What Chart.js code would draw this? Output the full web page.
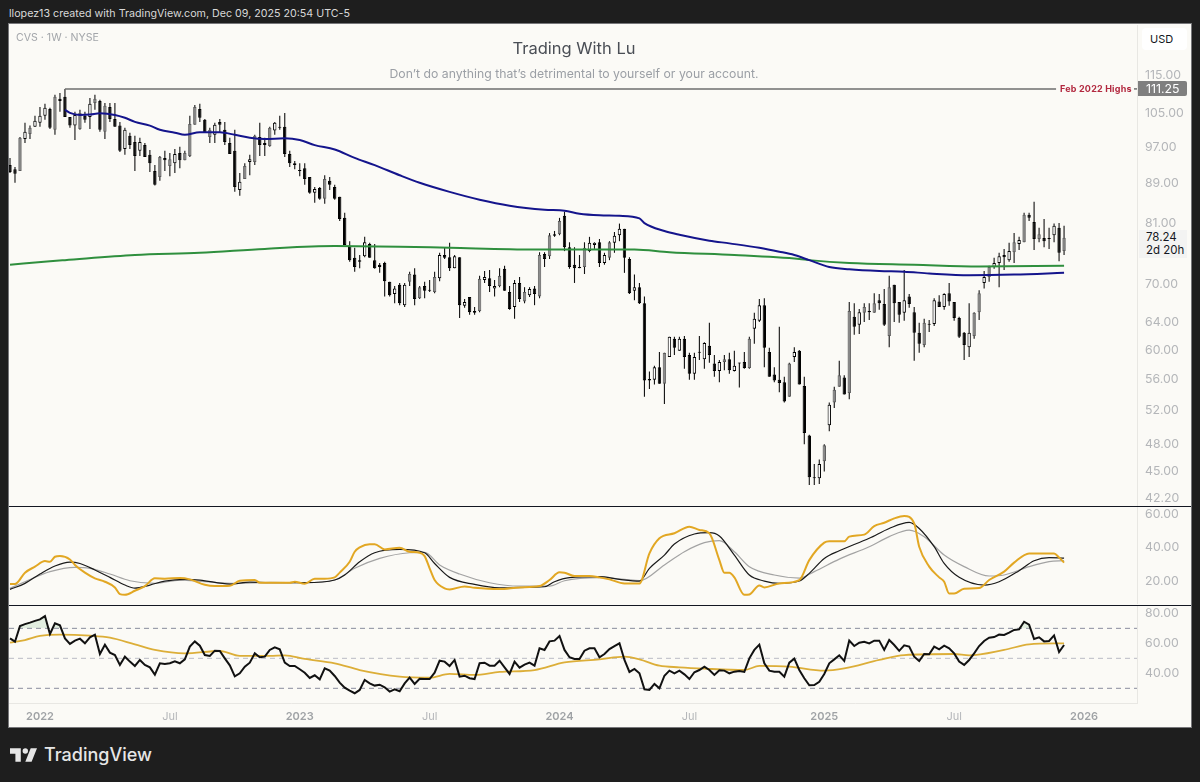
<!DOCTYPE html>
<html>
<head>
<meta charset="utf-8">
<script src="https://cdn.jsdelivr.net/npm/chart.js@4"></script>
<style>
body { margin: 0; width: 1200px; height: 782px; background: #1e1e1e; overflow: hidden; font-family: Inter, sans-serif; }
.abs { position: absolute; white-space: nowrap; }
canvas { position: absolute; left: 9px; }
#panel { left: 9px; top: 24px; width: 1182px; height: 703px; background: #fbfaf6; box-shadow: 0 0 0 1px #77777a; }
.sep { left: 9px; width: 1182px; height: 1px; background: #131722; }
</style>
</head>
<body>
<div class="abs" style="left:9px;top:6px;font-size:10.7px;line-height:16px;color:#d8d8d8">llopez13 created with TradingView.com, Dec 09, 2025 20:54 UTC-5</div>
<div class="abs" id="panel"></div>
<canvas id="priceChart" width="1182" height="481" style="top:25px"></canvas>
<canvas id="stochChart" width="1182" height="97" style="top:507px"></canvas>
<canvas id="rsiChart" width="1182" height="121" style="top:606px"></canvas>
<div class="abs sep" style="top:506px"></div>
<div class="abs sep" style="top:605px"></div>
<div class="abs" style="left:16px;top:30px;font-size:10.6px;line-height:16px;color:#a3a6aa">CVS · 1W · NYSE</div>
<div class="abs" style="left:0;width:1148px;top:38px;text-align:center;font-size:16.5px;line-height:20px;color:#4a4e55">Trading With Lu</div>
<div class="abs" style="left:0;width:1148px;top:66px;text-align:center;font-size:12.25px;line-height:16px;color:#9b9fa5">Don’t do anything that’s detrimental to yourself or your account.</div>
<div class="abs" style="left:1142px;top:28px;width:45px;height:22px;background:#fff;border-radius:4px;padding-left:8px;box-sizing:border-box;font-size:11px;line-height:22px;color:#131722">USD</div>
<div class="abs" style="left:1060px;top:82px;font-size:9px;line-height:13px;font-weight:700;letter-spacing:.2px;color:#b2283f">Feb 2022 Highs</div>
<div class="abs" style="left:1138px;top:81px;width:49px;height:15px;background:#7f7f7f;border-radius:0 2px 2px 0;padding-left:8px;box-sizing:border-box;font-size:12.3px;line-height:15px;color:#fff">111.25</div>
<div class="abs" style="left:1139px;top:230px;width:48px;height:28px;background:#f3f3f2;padding-left:7px;box-sizing:border-box;font-size:11.5px;line-height:13px;padding-top:1px;color:#131722">78.24<br>2d 20h</div>
<svg class="abs" style="left:10px;top:748px" width="27" height="14" viewBox="2 6 30 15"><path fill="#e6e6e6" d="M14 6H2v6h6v9h6V6Zm12 15h-7l6-15h7l-6 15Zm-7-9a3 3 0 1 0 0-6 3 3 0 0 0 0 6Z"/></svg>
<div class="abs" style="left:44px;top:743px;font-size:18px;line-height:24px;font-weight:500;color:#e6e6e6">TradingView</div>
<script>
const opens = [92.9,92.0,91.6,98.8,100.0,101.7,102.7,104.4,106.1,101.0,
108.7,109.2,104.1,102.0,101.2,104.4,104.1,107.6,108.1,100.5,
106.6,103.6,102.0,96.5,99.6,98.1,96.1,97.4,95.2,91.6,
90.3,94.5,92.7,93.3,95.6,94.0,94.9,102.2,106.1,103.4,
99.3,99.8,102.9,101.0,97.9,96.1,87.6,89.9,93.6,93.6,
99.3,97.9,97.2,100.8,101.7,101.7,95.4,93.3,91.8,92.2,
90.3,87.0,88.0,85.8,89.5,88.2,86.2,82.0,76.7,74.6,
74.2,74.9,77.1,74.2,73.4,73.7,70.5,68.5,70.0,66.7,
70.5,71.7,67.8,69.8,69.1,68.8,71.1,75.1,74.7,72.8,
74.7,66.6,68.0,65.5,65.8,70.8,71.1,69.4,69.8,72.7,
68.8,66.4,70.3,67.3,68.3,69.4,68.1,75.3,74.9,78.9,
78.9,82.4,76.5,73.4,73.0,73.0,75.8,76.9,77.4,73.7,
74.6,77.3,78.7,79.9,74.4,69.0,69.6,67.0,56.0,55.9,
57.6,55.4,59.0,61.6,59.9,61.6,59.3,56.7,59.6,58.7,
60.6,58.1,57.1,58.3,58.7,57.1,58.2,58.3,57.5,63.1,
64.3,66.7,59.7,56.6,55.9,55.6,53.7,59.0,59.9,55.1,
49.0,44.4,44.3,46.1,50.2,53.0,55.0,56.2,54.2,64.9,
63.7,65.5,65.8,65.5,67.5,66.9,62.0,70.0,67.2,65.5,
68.1,65.6,62.5,60.7,63.8,63.8,67.3,66.4,68.6,67.2,
64.7,62.5,60.4,62.0,65.6,70.3,71.3,73.0,73.7,75.1,
74.2,75.6,77.1,77.4,82.6,81.2,78.0,78.2,78.2,78.7,
80.1,75.8];
const closes = [91.4,91.0,99.1,100.5,101.5,103.2,104.4,106.4,101.5,109.2,
108.1,104.1,102.0,104.6,105.1,103.4,107.4,108.7,101.0,106.9,
103.6,101.7,96.1,101.0,97.4,94.9,98.1,94.7,93.3,88.7,
94.7,94.0,94.2,95.4,94.0,95.6,102.4,106.6,103.9,100.3,
101.0,102.2,102.2,98.1,95.4,88.2,89.3,92.7,94.2,99.6,
97.4,97.4,101.5,102.7,101.5,95.4,93.3,92.9,91.6,89.9,
87.0,87.8,85.8,89.9,88.7,85.8,81.8,76.9,74.2,73.0,
73.9,77.4,74.6,72.8,73.0,70.6,68.3,69.4,67.0,70.0,
71.8,67.7,69.6,69.0,69.0,71.3,75.1,74.6,72.8,74.9,
66.7,67.2,65.6,65.8,71.0,71.3,69.8,69.8,71.5,69.0,
66.1,70.3,67.7,68.8,69.3,68.5,75.1,74.4,78.7,78.6,
81.4,76.5,73.0,72.8,72.8,76.4,77.3,77.3,73.7,75.1,
77.4,78.6,79.9,74.6,68.6,69.6,67.0,55.8,55.8,57.6,
55.4,59.6,61.9,60.3,61.6,59.0,56.7,59.0,59.7,61.0,
59.3,57.1,58.3,58.7,57.2,57.8,58.1,57.5,61.6,64.6,
66.7,60.3,56.3,55.8,55.5,53.1,58.1,59.7,55.3,49.3,
44.4,44.3,45.8,47.9,52.7,54.6,56.5,54.0,65.8,63.4,
65.6,66.4,65.6,67.0,67.0,63.7,69.6,67.0,65.2,67.5,
66.9,62.5,60.9,64.0,63.7,67.5,66.4,68.5,67.3,64.7,
61.9,60.7,62.5,65.5,68.6,71.3,73.0,73.7,74.9,74.7,
75.8,77.4,77.8,82.6,82.0,78.0,78.9,77.6,78.0,80.5,
75.5,78.24];
const highs = [94.5,92.5,99.3,102.7,102.0,104.4,106.6,107.4,106.4,109.7,
110.2,111.25,104.1,105.4,105.9,105.4,108.9,109.7,108.4,107.6,
107.6,107.6,102.9,101.5,100.3,99.6,99.1,97.9,96.3,92.9,
94.9,96.1,95.6,96.5,97.0,96.1,104.4,107.1,107.4,103.6,
101.5,102.7,103.6,102.9,99.1,101.0,91.2,93.3,95.2,99.8,
102.7,99.1,101.7,102.9,104.4,105.1,96.1,93.8,93.3,93.3,
90.3,88.2,88.2,90.7,90.3,88.7,86.2,83.0,77.6,76.4,
75.1,78.4,77.3,77.1,73.7,73.9,70.5,69.8,70.3,70.3,
72.2,72.8,69.8,70.5,70.8,72.2,75.5,76.4,77.3,75.1,
74.7,67.7,68.0,66.4,71.5,72.3,72.5,70.8,72.8,73.2,
69.8,70.8,71.3,69.6,69.6,69.8,75.6,75.6,79.1,79.5,
82.0,83.2,77.4,76.5,75.1,77.4,78.4,77.4,78.0,75.5,
77.6,79.3,80.9,79.9,74.7,71.7,70.3,68.1,57.0,57.8,
59.7,59.6,61.9,61.9,61.9,62.0,59.6,59.6,62.0,61.1,
64.0,59.3,58.6,59.3,59.6,59.9,58.2,59.7,61.9,65.5,
67.7,67.8,60.3,57.6,63.4,56.3,58.2,60.4,60.0,56.3,
49.1,45.8,46.3,48.0,53.0,55.0,58.5,56.5,67.2,67.0,
66.1,67.0,67.0,68.6,68.5,69.3,71.5,70.0,67.2,72.5,
68.5,66.4,64.0,64.6,64.4,67.8,68.3,68.6,70.3,67.2,
64.9,62.6,67.0,65.6,69.1,72.3,73.2,74.6,75.5,76.2,
77.3,79.1,78.4,83.0,83.0,85.2,80.1,81.8,80.1,80.9,
81.0,80.5];
const lows = [91.2,89.1,91.6,97.9,98.8,101.7,101.7,103.4,101.2,99.8,
105.4,104.1,101.5,98.6,101.0,102.7,101.2,105.9,100.5,98.8,
102.9,101.7,95.8,95.2,96.5,91.6,94.9,94.7,91.4,88.5,
89.5,91.6,90.5,91.2,92.2,94.0,94.7,102.2,102.9,100.3,
97.9,97.9,100.3,97.4,95.4,87.2,86.4,89.9,90.7,92.9,
94.9,94.9,97.0,99.8,101.0,94.7,92.5,92.0,90.5,88.7,
86.8,85.0,85.6,84.8,87.6,85.6,81.4,76.9,73.9,72.2,
72.8,74.7,74.6,72.7,72.0,68.1,68.1,67.0,66.7,66.4,
69.8,66.7,67.7,67.8,68.8,68.6,70.6,74.4,72.3,72.8,
64.7,66.3,65.2,65.2,65.6,70.3,68.8,68.1,69.6,69.0,
66.0,64.6,67.2,67.0,68.0,66.7,67.8,73.0,74.4,78.4,
78.7,75.8,72.7,70.3,72.8,71.8,75.6,76.2,73.0,73.4,
74.2,75.5,77.6,72.0,68.5,67.5,66.9,53.7,54.7,55.3,
55.4,52.8,59.0,59.3,59.9,57.4,55.9,55.9,58.6,57.4,
58.2,56.3,55.6,57.2,56.7,57.0,54.9,57.4,57.4,60.9,
64.1,57.6,56.3,55.6,54.3,53.0,53.7,58.3,55.3,48.0,
43.6,43.6,43.7,45.0,49.5,52.3,55.0,54.0,53.4,62.2,
62.3,64.1,64.4,65.5,66.0,63.5,60.4,64.1,64.0,64.3,
66.3,58.5,59.6,60.4,62.6,63.5,66.4,66.0,66.6,64.3,
61.7,58.6,59.0,61.6,64.4,69.4,70.5,72.7,69.6,72.5,
73.9,73.7,76.0,77.4,81.4,76.0,77.4,76.5,76.2,77.4,
74.0,75.1];

const blueWeeks = [11,12,14,16,18,21,23,25,28,30,33,35,38,42,45,48,51,55,58,61,65,69,73,78,82,88,94,100,107,111,114,118,122,126,127,131,134,140,144,150,154,157,160,164,168,174,179,184,192,201,211];
const blueMa = [105.9,105.1,104.6,104.7,105.0,104.6,103.9,102.9,102.0,101.0,100.3,99.8,100.4,100.4,99.8,99.1,98.8,99.0,98.6,97.4,96.4,94.5,92.9,90.7,89.1,87.2,85.6,84.4,83.6,83.4,82.8,82.5,82.4,81.9,81.0,79.5,78.8,77.7,77.2,76.4,75.7,75.1,74.2,73.0,72.6,72.3,72.2,71.9,71.6,71.7,72.0];
const greenWeeks = [0,8,11,25,38,51,65,78,88,105,125,132,145,158,160,168,181,194,211];
const greenMa = [73.4,74.0,74.2,75.1,75.5,76.2,76.7,76.6,76.4,76.1,76.1,75.6,75.1,74.4,74.2,73.7,73.4,73.1,73.2];

const highLineWeeks = [11,209.4];
const highStubWeeks = [225,225.6];
const highLevel = 111.25;

const stochGoldWeeks = [0,1,3,5,7,8,9,10,12,13,15,17,19,21,22,23,25,27,29,31,34,36,39,41,44,46,49,50,56,57,59,61,63,65,66,68,69,70,72,73,75,78,80,82,83,84,85,87,88,91,93,98,102,106,108,110,111,113,116,118,120,123,126,128,130,133,136,138,140,142,143,144,145,147,148,150,151,154,158,160,163,164,167,168,171,173,175,177,179,181,182,184,186,187,188,189,191,194,196,199,201,204,206,209,210,211];
const stochGold = [18.2,18.2,25.0,28.6,31.9,31.5,34.5,34.9,32.9,29.6,25.0,21.6,19.6,16.2,12.2,11.8,14.2,17.0,21.6,21.4,21.8,21.0,17.8,17.0,17.2,20.2,20.6,19.0,19.0,19.6,18.4,21.4,21.4,22.2,25.0,31.5,37.5,40.1,42.0,42.0,38.9,39.9,37.5,36.9,34.9,27.6,20.6,15.6,15.0,16.8,16.0,15.2,16.2,17.0,20.6,25.2,25.0,23.0,23.0,22.2,21.0,18.6,18.6,36.5,45.5,48.5,52.4,50.5,48.5,32.5,25.0,25.0,22.2,11.8,12.0,17.4,16.2,18.6,20.6,32.5,42.9,43.7,43.7,46.5,47.7,52.8,54.8,57.4,58.8,54.4,40.5,28.6,22.2,19.6,12.6,12.6,15.4,15.8,20.6,25.6,31.0,36.5,36.5,36.5,34.0,31.0];
const stochFastWeeks = [0,3,6,9,12,14,17,20,23,25,28,31,35,38,44,48,52,59,65,67,70,73,78,83,85,88,93,98,107,109,112,118,122,126,128,131,133,137,140,142,145,148,151,154,158,160,163,166,172,176,180,182,185,187,190,195,198,202,205,208,211];
const stochFast = [15.0,18.6,24.2,29.0,31.3,30.5,26.6,22.2,17.6,15.8,17.6,20.0,21.0,20.6,18.2,19.4,19.0,19.0,20.6,23.6,31.5,36.9,38.9,36.9,30.5,22.2,18.0,16.0,16.6,19.6,22.0,22.6,21.0,20.0,27.6,35.5,42.1,48.1,48.9,46.9,35.5,23.6,20.0,18.6,20.0,24.6,33.5,38.1,45.5,51.4,55.0,51.4,40.5,30.5,22.2,17.6,19.6,26.2,32.1,34.0,33.7];
const stochSlowWeeks = [0,3,8,13,16,20,24,29,34,39,45,52,59,65,69,74,80,83,86,90,96,102,108,111,118,123,126,131,135,139,142,145,148,153,158,161,166,172,176,180,183,187,191,196,199,204,208,211];
const stochSlow = [15.6,19.6,25.6,28.2,27.6,24.2,20.2,18.6,20.6,19.6,18.6,19.2,19.0,20.6,27.6,33.5,36.9,37.1,29.6,24.2,19.0,17.0,17.0,20.2,22.0,21.0,20.2,29.6,37.5,42.9,44.1,37.5,28.6,23.6,21.8,25.6,33.1,40.5,46.5,50.4,46.5,35.5,28.6,23.0,23.6,28.6,31.6,32.2];
const stochTicks = [20,40,60];

const rsiValues = [63.3,61.1,71.6,72.8,73.8,75.0,76.0,78.2,66.2,73.3,72.0,63.3,
59.6,61.8,63.1,60.0,64.0,65.8,52.9,59.1,53.8,52.2,
45.6,51.1,47.8,44.9,48.9,45.6,44.0,39.1,46.7,46.2,
46.7,48.0,46.7,49.3,57.8,61.3,58.4,52.2,51.6,55.1,
54.9,50.0,45.3,38.0,40.0,44.4,47.1,53.3,50.7,51.1,
55.6,57.3,56.0,47.1,44.9,44.9,42.7,40.4,36.9,38.7,
36.0,43.3,41.8,38.2,33.8,30.4,28.4,26.7,28.9,35.6,
33.3,31.8,32.4,30.7,27.8,29.3,28.0,33.3,37.1,32.9,
36.4,36.2,36.2,40.4,48.4,47.8,44.9,48.9,37.8,38.4,
36.7,36.2,46.7,47.1,45.1,45.1,48.4,44.0,39.6,47.8,
43.8,45.8,47.1,45.1,56.7,55.6,61.3,61.8,64.9,55.6,
50.7,49.6,49.6,55.1,56.7,56.7,50.7,52.9,56.2,58.2,
60.0,48.9,40.9,42.9,40.0,29.3,28.9,32.9,30.0,38.4,
41.8,40.0,41.8,39.3,36.2,40.7,42.2,44.4,42.2,38.9,
42.0,41.8,40.0,41.1,41.6,40.9,50.0,55.6,59.1,46.7,
41.8,41.1,41.1,37.8,47.1,49.8,42.2,36.7,32.0,32.2,
34.4,39.6,46.7,49.3,52.0,48.2,61.8,58.2,60.4,61.1,
60.0,61.8,61.8,55.6,62.2,58.9,55.0,58.7,57.8,51.1,
48.2,52.9,52.7,57.8,56.0,58.4,56.7,53.3,47.8,45.6,
48.9,53.3,58.2,61.6,63.8,64.2,65.8,65.6,67.1,68.9,
69.3,74.4,72.4,62.9,64.0,61.3,61.6,65.3,54.2,58.9];
const rsiMaWeeks = [0,3,6,10,16,20,25,29,35,42,46,52,55,59,65,70,78,84,88,93,98,105,111,118,123,126,130,134,139,147,150,156,163,167,174,179,189,192,199,204,211];
const rsiMa = [60.4,62.2,64.9,65.8,65.1,63.8,59.3,55.6,53.3,54.9,51.6,51.6,52.0,49.6,46.7,42.2,37.8,37.1,39.6,38.9,40.9,42.2,47.3,49.3,51.1,49.3,45.1,44.0,43.1,42.2,44.9,44.4,41.8,43.3,48.9,52.2,52.9,52.0,55.6,59.3,60.0];
const rsiLevels = [70,50,30];
const rsiTicks = [40,60,80];

const priceTicks = [115,105,97,89,81,70,64,60,56,52,48,45,42.2];
const timeWeeks = [6,32,58,84,110,136,163,189,215];
const timeLabels = ['2022','Jul','2023','Jul','2024','Jul','2025','Jul','2026'];

const xMin = -0.2, xMax = 225.6;

// up weeks whose hollow body reads as solid grey in the reference
const greyBodyWeeks = [2,4,9,14,17,19,30,32,35,36,37,40,47,49,52,63,80,82,85,94,98,103,106,108,110,115,120,131,143,148,156,163,165,166,168,171,173,176,183,193,194,196,201,203,206,211];

function pairs(xs, ys) {
    return xs.map(function (x, i) { return { x: x, y: ys[i] }; });
}

function curve(xs, ys, color, width, order) {
    return {
        type: 'line',
        data: pairs(xs, ys),
        borderColor: color,
        borderWidth: width,
        pointRadius: 0,
        cubicInterpolationMode: 'monotone',
        order: order
    };
}

function rightAxis(min, max, tickValues, type) {
    return {
        type: type || 'linear',
        position: 'right',
        min: min,
        max: max,
        grid: { display: false, drawTicks: false },
        border: { color: '#e8e7e3', width: 1 },
        afterFit: function (axis) {
            axis.width = 54;
            axis.paddingTop = 0;
            axis.paddingBottom = 0;
        },
        afterBuildTicks: function (axis) {
            axis.ticks = tickValues.map(function (v) { return { value: v }; });
        },
        ticks: {
            autoSkip: false,
            padding: 8,
            color: '#b4b6b9',
            font: { family: 'Inter', size: 12.3 },
            callback: function (v) { return Number(v).toFixed(2); }
        }
    };
}

function hiddenX() {
    return { type: 'linear', min: xMin, max: xMax, offset: false, display: false };
}

function baseOptions(scales) {
    return {
        responsive: false,
        animation: false,
        events: [],
        layout: { padding: 0 },
        plugins: { legend: { display: false }, tooltip: { enabled: false } },
        scales: scales
    };
}

var wickBars = highs.map(function (h, i) { return { x: i, y: [lows[i], h] }; });
var bodyBars = opens.map(function (o, i) { return { x: i, y: [o, closes[i]] }; });
var bodyFill = opens.map(function (o, i) {
    if (closes[i] < o) return '#000000';
    return greyBodyWeeks.indexOf(i) >= 0 ? '#8c8c8c' : '#ffffff';
});
var bodyEdge = opens.map(function (o, i) {
    return greyBodyWeeks.indexOf(i) >= 0 ? '#5c5c5c' : '#000000';
});

new Chart(document.getElementById('priceChart'), {
    type: 'bar',
    data: {
        datasets: [
            curve(blueWeeks, blueMa, '#14148c', 2, 1),
            curve(greenWeeks, greenMa, '#2f8f3e', 2, 2),
            { type: 'line', data: highLineWeeks.map(function (x) { return { x: x, y: highLevel }; }), borderColor: '#6e6e6e', borderWidth: 1.5, pointRadius: 0, order: 3 },
            { type: 'line', data: highStubWeeks.map(function (x) { return { x: x, y: highLevel }; }), borderColor: '#6e6e6e', borderWidth: 1.5, pointRadius: 0, order: 3 },
            { data: bodyBars, grouped: false, categoryPercentage: 1, barPercentage: 0.68, backgroundColor: bodyFill, borderColor: bodyEdge, borderWidth: 1, borderSkipped: false, minBarLength: 1, order: 4 },
            { data: wickBars, grouped: false, categoryPercentage: 1, barPercentage: 0.22, backgroundColor: '#111111', order: 5 }
        ]
    },
    options: baseOptions({
        x: hiddenX(),
        y: rightAxis(41.48, 129.4, priceTicks, 'logarithmic')
    })
});

new Chart(document.getElementById('stochChart'), {
    type: 'line',
    data: {
        datasets: [
            curve(stochGoldWeeks, stochGold, '#e2a723', 2, 1),
            curve(stochFastWeeks, stochFast, '#1a1a1a', 1.2, 2),
            curve(stochSlowWeeks, stochSlow, '#a3a3a3', 1.2, 3)
        ]
    },
    options: baseOptions({
        x: hiddenX(),
        y: rightAxis(6.3, 64.2, stochTicks)
    })
});

var levelSets = rsiLevels.map(function (lv) {
    return {
        type: 'line',
        data: [{ x: xMin, y: lv }, { x: xMax, y: lv }],
        borderColor: lv === 50 ? '#b9bbc4' : '#8a8c9e',
        borderWidth: 1,
        borderDash: [5, 4],
        pointRadius: 0,
        order: 5
    };
});

new Chart(document.getElementById('rsiChart'), {
    type: 'line',
    data: {
        datasets: [
            {
                data: rsiValues.map(function (v, i) { return { x: i, y: v }; }),
                borderColor: '#111111',
                borderWidth: 2,
                pointRadius: 0,
                fill: { target: { value: 70 }, above: 'rgba(46,160,67,0.12)', below: 'rgba(0,0,0,0)' },
                order: 1
            },
            curve(rsiMaWeeks, rsiMa, '#dcae38', 1.8, 2)
        ].concat(levelSets)
    },
    options: baseOptions({
        x: {
            type: 'linear',
            min: xMin,
            max: xMax,
            offset: false,
            grid: { display: false, drawTicks: false },
            border: { color: '#e8e7e3', width: 1 },
            afterFit: function (axis) {
                axis.height = 24;
                axis.paddingLeft = 0;
                axis.paddingRight = 0;
            },
            afterBuildTicks: function (axis) {
                axis.ticks = timeWeeks.map(function (w) { return { value: w }; });
            },
            ticks: {
                autoSkip: false,
                maxRotation: 0,
                padding: 7,
                color: function (ctx) { return ctx.index % 2 === 0 ? '#9fa2a5' : '#b4b6b9'; },
                font: function (ctx) {
                    return { family: 'Inter', size: 11, weight: ctx.index % 2 === 0 ? '600' : '400' };
                },
                callback: function (v, i) { return timeLabels[i]; }
            }
        },
        y: rightAxis(20.2, 84.9, rsiTicks)
    })
});
</script>
</body>
</html>
